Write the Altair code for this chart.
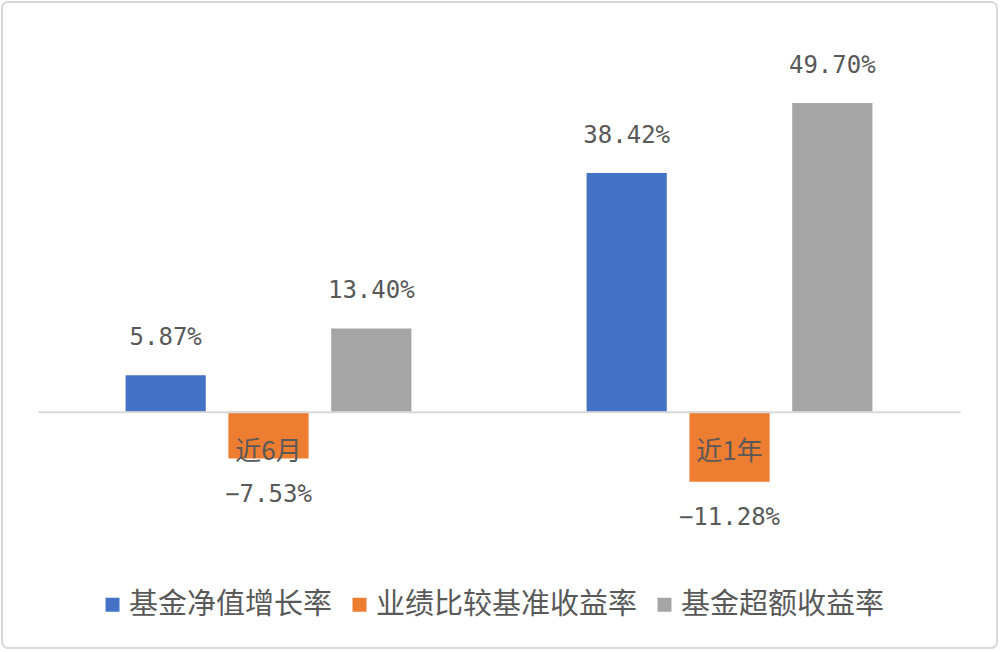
import altair as alt
import pandas as pd

categories = ["近6月", "近1年"]
series = ["基金净值增长率", "业绩比较基准收益率", "基金超额收益率"]
values_6m = [5.87, -7.53, 13.40]
values_1y = [38.42, -11.28, 49.70]
colors = ["#4472C4", "#ED7D31", "#A5A5A5"]

rows = []
for cat, vals in zip(categories, [values_6m, values_1y]):
    for s, v in zip(series, vals):
        rows.append({"period": cat, "series": s, "value": v,
                     "label": f"{v:.2f}%".replace("-", "\u2212")})
df = pd.DataFrame(rows)

W, H = 922, 466
CJK = "Noto Sans CJK SC"
TXT = "#595959"
YDOM = [-20, 55]
ZERO_OFFSET = -H * (0 - YDOM[0]) / (YDOM[1] - YDOM[0])

xenc = alt.X("period:N", sort=categories, title=None,
             scale=alt.Scale(paddingInner=0.38, paddingOuter=0.19),
             axis=alt.Axis(orient="bottom", offset=ZERO_OFFSET, domainColor="#d9d9d9",
                           domainWidth=2, ticks=False, labelAngle=0, zindex=1,
                           labelFont=CJK, labelFontSize=26, labelColor=TXT,
                           labelPadding=40, labelBaseline="middle"))
xoff = alt.XOffset("series:N", sort=series,
                   scale=alt.Scale(paddingInner=0.22, paddingOuter=0))
yenc = alt.Y("value:Q", axis=None, scale=alt.Scale(domain=YDOM, nice=False))

base = alt.Chart(df)

bars = base.mark_bar().encode(
    x=xenc, xOffset=xoff, y=yenc,
    color=alt.Color("series:N", sort=series,
                    scale=alt.Scale(domain=series, range=colors),
                    legend=alt.Legend(title=None, orient="none", direction="horizontal",
                                      legendX=60, legendY=520,
                                      symbolType="square", symbolSize=196,
                                      symbolStrokeWidth=0,
                                      labelFont=CJK, labelFontSize=29, labelColor=TXT,
                                      labelOffset=2, columnPadding=12,
                                      labelLimit=400)),
)

pos_labels = base.transform_filter("datum.value >= 0").mark_text(
    baseline="middle", dy=-37, font="DejaVu Sans Mono", fontSize=24, color=TXT
).encode(x=xenc, xOffset=xoff, y=yenc, text="label:N")

neg_labels = base.transform_filter("datum.value < 0").mark_text(
    baseline="middle", dy=36, font="DejaVu Sans Mono", fontSize=24, color=TXT
).encode(x=xenc, xOffset=xoff, y=yenc, text="label:N")

border = base.transform_filter("datum.value > 40").mark_rect(
    fill="transparent", stroke="#d9d9d9", strokeWidth=2, cornerRadius=6
).encode(x=alt.value(-36), x2=alt.value(W + 37), y=alt.value(-68), y2=alt.value(H + 112))

chart = alt.layer(bars, pos_labels, neg_labels, border).properties(
    width=W, height=H,
    autosize=alt.AutoSizeParams(type="none"),
    padding={"left": 38, "top": 70, "right": 40, "bottom": 116},
    background="white",
).configure_view(stroke=None)

chart.save("out.html", embed_options={"renderer": "svg", "actions": False})
